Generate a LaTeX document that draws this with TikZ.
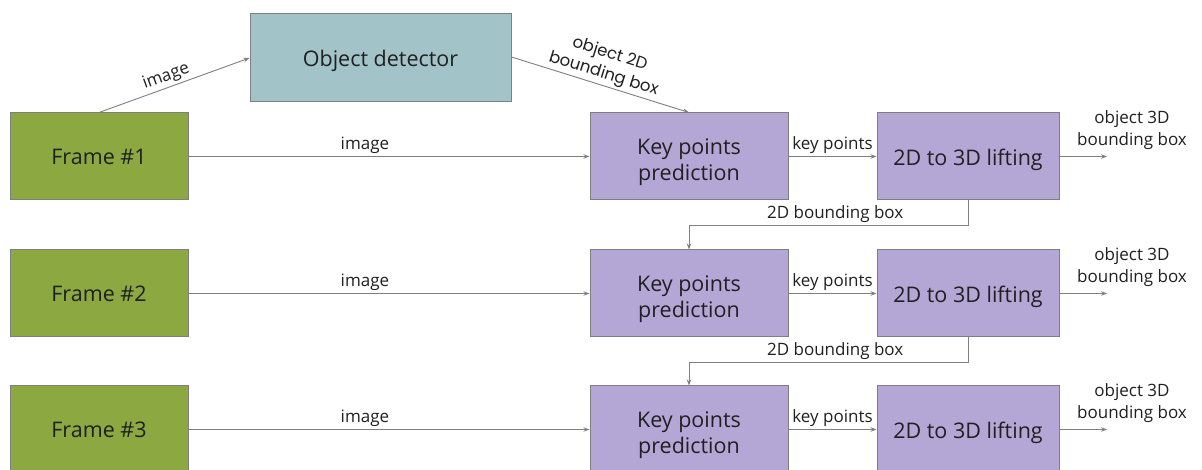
\documentclass[tikz,border=0pt]{standalone}
\usepackage{fontspec}
\setmainfont{Open Sans}
\newfontfamily\geofont{Poppins}
\usetikzlibrary{arrows.meta}
\definecolor{frmgreen}{HTML}{8BA940}
\definecolor{detblue}{HTML}{A2C4C9}
\definecolor{kppurple}{HTML}{B4A7D6}
\definecolor{edgegray}{HTML}{7F7F7F}
\definecolor{txtcol}{HTML}{202020}
\newcommand{\lowtext}[2][3.5pt]{\raisebox{-#1}[\height][\depth]{\begin{tabular}{@{}c@{}}#2\end{tabular}}}
\begin{document}
\begin{tikzpicture}[x=1pt,y=1pt,
  box/.style={draw=edgegray, line width=1pt, minimum height=87pt, inner sep=0pt,
    text=txtcol, font=\fontsize{21.5}{26}\selectfont},
  framebox/.style={box, fill=frmgreen, minimum width=178pt},
  detbox/.style={box, fill=detblue, minimum width=261pt, minimum height=88pt},
  kpbox/.style={box, fill=kppurple, minimum width=198pt},
  liftbox/.style={box, fill=kppurple, minimum width=182pt},
  conn/.style={draw=edgegray, line width=0.9pt, -{Stealth[length=6pt,width=4.5pt]}},
  lbl/.style={text=txtcol, inner sep=2pt, font=\fontsize{17}{22}\selectfont},
  geolbl/.style={text=txtcol, inner sep=2pt, align=center, font=\geofont\fontsize{16.5}{21}\selectfont}
]
\useasboundingbox (0,0) rectangle (1202,470);

\node[detbox] (od) at (380.5,412) {\lowtext{Object detector}};

\foreach \i/\y in {1/313.5, 2/176.5, 3/40.5} {
  \node[framebox] (f\i) at (99,\y) {\lowtext[3pt]{Frame \#\i}};
  \node[kpbox] (kp\i) at (689,\y) {\lowtext[6pt]{Key points\\prediction}};
  \node[liftbox] (lf\i) at (968,\y) {\lowtext[4pt]{2D to 3D lifting}};
  \coordinate (out\i) at (1107,\y);
  \draw[conn] (f\i) -- node[lbl, above, pos=0.44] {image} (kp\i);
  \draw[conn] (kp\i) -- node[lbl, above] {key points} (lf\i);
  \draw[conn] (lf\i) -- (out\i);
  \node[lbl, align=center, anchor=south] at (1132,\y+5) {object 3D\\bounding box};
}

\draw[conn] (f1.north) -- node[lbl, above, sloped, pos=0.47] {image} (od.west);
\draw[conn] ([yshift=1pt]od.east) -- node[geolbl, above, sloped, pos=0.5] {object 2D\\bounding box} (kp1.north);

\draw[conn] (lf1.south) -- ++(0,-25) -| node[lbl, above, pos=0.238] {2D bounding box} (kp2.north);
\draw[conn] (lf2.south) -- ++(0,-25) -| node[lbl, above, pos=0.238] {2D bounding box} (kp3.north);
\end{tikzpicture}
\end{document}
